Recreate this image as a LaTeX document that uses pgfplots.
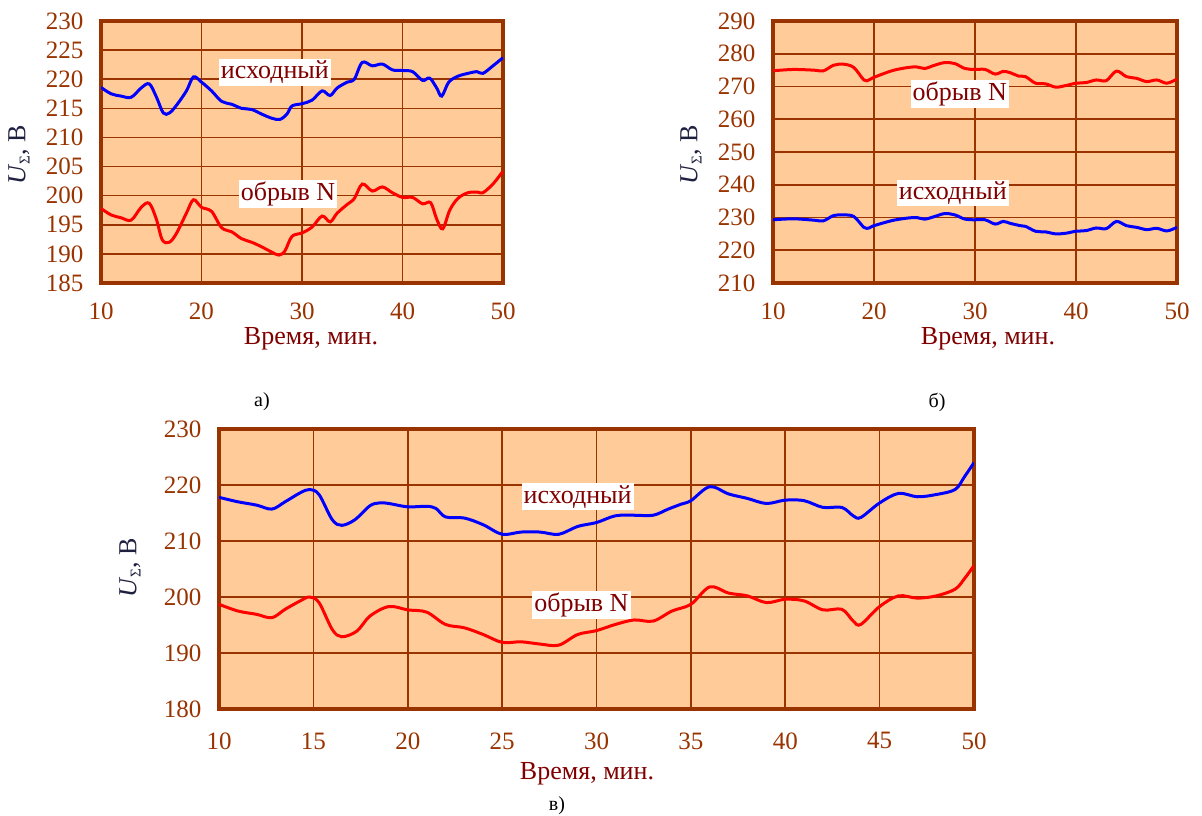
\documentclass[border=0pt]{standalone}
\usepackage{pgfplots}
\pgfplotsset{compat=1.18}
\usepackage{fontspec}
\setmainfont{Liberation Serif}
\definecolor{bgor}{HTML}{FFCC99}
\definecolor{brn}{HTML}{993300}
\definecolor{mar}{HTML}{800000}
\definecolor{ylab}{HTML}{1F1F3F}
\pgfplotsset{myax/.style={
  scale only axis, xmin=10, xmax=50,
  axis background/.style={fill=bgor},
  axis line style={brn, line width=3.8pt},
  grid=major, grid style={brn, line width=1.6pt},
  major tick length=0pt,
  tick label style={font=\fontsize{25}{30}\selectfont, text=brn},
  /pgf/number format/assume math mode=true,
  yticklabel style={xshift=-14pt},
  xticklabel style={yshift=-16pt},
  every axis plot/.append style={line width=3pt, smooth, tension=0.55, no markers},
}}
\newcommand{\lbl}{\fontsize{26}{30}\selectfont}
\tikzset{tag/.style={fill=white, text=mar, font=\lbl, inner sep=2pt}}
\begin{document}
\begin{tikzpicture}
\path[use as bounding box] (0,0) rectangle (1202pt,-816pt);
% ---------- a ----------
\begin{axis}[myax, at={(101pt,-283pt)}, anchor=south west, width=402pt, height=262pt,
  ymin=185, ymax=230, ytick={185,190,...,230}, xtick={10,20,30,40,50}]
\addplot[blue] coordinates {(10,218.6)(11,217.5)(12,217.1)(13,216.9)(14,218.5)(14.8,219.2)(15.5,217)(16.2,214.2)(16.8,214.2)(17.5,215.5)(18.5,218)(19.2,220.4)(20,219.5)(21,218)(22,216.2)(23,215.7)(24,215)(25,214.8)(26,214)(27,213.3)(27.8,213.1)(28.5,214)(29,215.4)(30,215.8)(31,216.4)(32,218)(32.8,217.2)(33.5,218.5)(34.5,219.5)(35.2,220)(36,222.9)(37,222.3)(38,222.6)(39,221.6)(40,221.5)(41,221.3)(42,219.8)(42.7,220.2)(43.4,218.5)(43.9,217.1)(44.6,219.5)(45.5,220.5)(46.5,221)(47.4,221.3)(48,221)(49,222.3)(50,223.7)};
\addplot[red] coordinates {(10,197.8)(11,196.7)(12,196.2)(13,195.8)(14,198)(14.8,198.7)(15.5,196)(16.1,192.4)(16.8,192)(17.5,193.5)(18.5,197)(19.2,199.3)(20,198)(21,197.3)(22,194.5)(23,193.8)(24,192.6)(25,192)(26,191.2)(27,190.3)(27.7,189.8)(28.3,190.5)(29,193)(30,193.6)(31,194.6)(32,196.5)(32.8,195.5)(33.5,197)(34.5,198.5)(35.2,199.5)(36,202)(37,200.8)(38,201.5)(39,200.5)(40,199.7)(41,199.7)(42,198.6)(42.8,198.8)(43.4,196)(44,194.3)(44.7,197.5)(45.5,199.5)(46.5,200.5)(47.5,200.6)(48,200.5)(49,202)(50,204.2)};
\node[tag] at (axis cs:27.3,221.2) {исходный};
\node[tag] at (axis cs:28.6,200.3) {обрыв N};
\end{axis}
% ---------- b ----------
\begin{axis}[myax, at={(773pt,-283pt)}, anchor=south west, width=404pt, height=262pt,
  ymin=210, ymax=290, ytick={210,220,...,290}, xtick={10,20,30,40,50}]
\addplot[red] coordinates {(10,274.8)(12,275.2)(14,275)(15,274.8)(16,276.5)(17,276.8)(18,275.8)(19,272)(19.5,272)(20,272.8)(22,275)(24,276)(25,275.5)(26,276.5)(27,277.3)(28,277)(29,275.5)(30,275.2)(31,275.2)(32,273.8)(32.8,274.6)(33.5,274.2)(34.3,273.2)(35,273)(36,271)(37,270.8)(38,269.8)(39,270.3)(40,271)(41,271.2)(42,272)(43,271.8)(44,274.7)(45,273)(46,272.5)(47,271.5)(48,272)(49,271)(50,272.3)};
\addplot[blue] coordinates {(10,229.3)(12,229.6)(14,229.2)(15,229.0)(16,230.6)(17,230.8)(18,230.3)(19,227)(19.5,226.8)(20,227.5)(22,229.2)(24,230)(25,229.5)(26,230.3)(27,231.2)(28,230.8)(29,229.5)(30,229.3)(31,229.3)(32,228)(32.8,228.8)(33.5,228.2)(34.5,227.5)(35,227.3)(36,225.8)(37,225.6)(38,225)(39,225.2)(40,225.8)(41,226)(42,226.8)(43,226.6)(44,228.8)(45,227.5)(46,227)(47,226.3)(48,226.7)(49,225.9)(50,227)};
\node[tag] at (axis cs:28.5,267.7) {обрыв N};
\node[tag] at (axis cs:27.8,237.5) {исходный};
\end{axis}
% ---------- c ----------
\begin{axis}[myax, at={(219pt,-709pt)}, anchor=south west, width=755pt, height=280pt,
  ymin=180, ymax=230, ytick={180,190,...,230}, xtick={10,15,...,50},
  xticklabel style={yshift=-4pt}]
\addplot[blue] coordinates {(10,217.8)(11,217)(12,216.4)(12.8,215.7)(13.5,217)(14.3,218.6)(14.8,219.2)(15.3,218.3)(16,213.8)(16.5,212.8)(17.2,213.8)(18,216.3)(18.5,216.8)(19,216.7)(20,216.1)(21,216.2)(21.5,215.8)(22,214.3)(23,214.1)(24,212.9)(25,211.2)(26,211.6)(27,211.6)(28,211.2)(29,212.6)(30,213.3)(31,214.5)(32,214.6)(33,214.6)(33.8,215.7)(34.5,216.6)(35,217.2)(36,219.7)(37,218.4)(38,217.6)(39,216.7)(40,217.3)(41,217.2)(42,216)(43,216)(43.6,214.5)(44,214.2)(45,216.8)(46,218.5)(47,217.9)(48,218.3)(49,219.2)(49.5,221.5)(50,224)};
\addplot[red] coordinates {(10,198.7)(11,197.5)(12,196.9)(12.8,196.3)(13.5,197.8)(14.3,199.3)(14.8,200)(15.3,199)(16,194.2)(16.5,192.9)(17.3,193.9)(18,196.6)(19,198.3)(20,197.7)(21,197.3)(22,195.1)(23,194.5)(24,193.3)(25,191.9)(26,192)(27,191.6)(28,191.4)(29,193.3)(30,194)(31,195.1)(32,195.9)(33,195.7)(34,197.5)(35,198.7)(36,201.8)(37,200.7)(38,200.2)(39,199)(40,199.6)(41,199.3)(42,197.7)(43,197.8)(43.6,195.7)(44,195.1)(45,198.3)(46,200.2)(47,199.8)(48,200.2)(49,201.4)(49.5,203.3)(50,205.6)};
\node[tag] at (axis cs:29.0,217.9) {исходный};
\node[tag] at (axis cs:29.2,198.6) {обрыв N};
\end{axis}
% ---------- labels ----------
\node[rotate=90, text=ylab, font=\lbl] at (19pt,-155pt) {\textit{U}\raisebox{-0.35ex}{\fontsize{15}{16}\selectfont Σ}, В};
\node[rotate=90, text=ylab, font=\lbl] at (691pt,-155pt) {\textit{U}\raisebox{-0.35ex}{\fontsize{15}{16}\selectfont Σ}, В};
\node[rotate=90, text=ylab, font=\lbl] at (130pt,-568pt) {\textit{U}\raisebox{-0.35ex}{\fontsize{15}{16}\selectfont Σ}, В};
\node[text=mar, font=\lbl] at (311pt,-339pt) {Время, мин.};
\node[text=mar, font=\lbl] at (988pt,-339pt) {Время, мин.};
\node[text=mar, font=\lbl] at (587pt,-774pt) {Время, мин.};
\node[font=\fontsize{20}{24}\selectfont] at (262pt,-402pt) {а)};
\node[font=\fontsize{20}{24}\selectfont] at (937pt,-402pt) {б)};
\node[font=\fontsize{20}{24}\selectfont] at (557pt,-806pt) {в)};
\end{tikzpicture}
\end{document}
